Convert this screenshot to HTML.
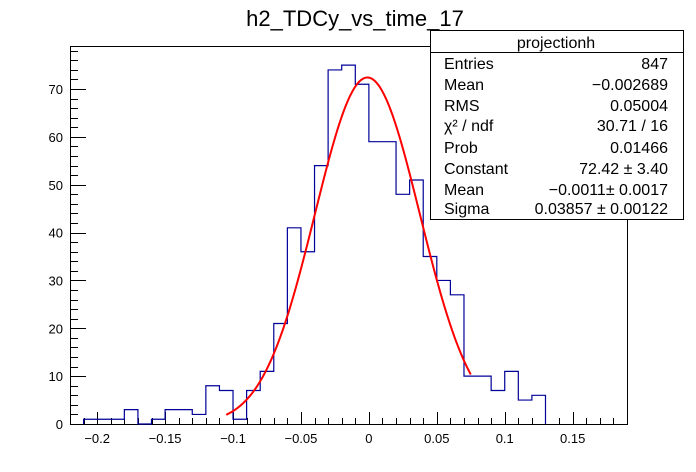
<!DOCTYPE html>
<html><head><meta charset="utf-8"><style>
body{margin:0;background:#fff;}
svg{display:block;font-family:"Liberation Sans",sans-serif;}
</style></head><body>
<svg id="chart" width="696" height="472" viewBox="0 0 696 472">
<rect x="0" y="0" width="696" height="472" fill="#fff"/>
<text x="355" y="26" font-size="22" text-anchor="middle">h2_TDCy_vs_time_17</text>
<g id="axes"></g>
<g id="hist"></g>
<g id="fit"></g>
<g>
<rect x="430.5" y="30.5" width="253" height="189" fill="#fff" stroke="#000"/>
<line x1="430" y1="52.5" x2="683" y2="52.5" stroke="#000"/>
<text x="556" y="48" font-size="16" text-anchor="middle">projectionh</text>
<g font-size="16">
<text x="444" y="69">Entries</text><text x="668" y="69" text-anchor="end">847</text>
<text x="444" y="90">Mean</text><text x="668" y="90" text-anchor="end">−0.002689</text>
<text x="444" y="111">RMS</text><text x="668" y="111" text-anchor="end">0.05004</text>
<text x="444" y="131">χ² / ndf</text><text x="668" y="131" text-anchor="end">30.71 / 16</text>
<text x="444" y="153">Prob</text><text x="668" y="153" text-anchor="end">0.01466</text>
<text x="444" y="174">Constant</text><text x="668" y="174" text-anchor="end">72.42 ± 3.40</text>
<text x="444" y="195">Mean</text><text x="668" y="195" text-anchor="end">−0.0011± 0.0017</text>
<text x="444" y="214">Sigma</text><text x="668" y="214" text-anchor="end">0.03857 ± 0.00122</text>
</g>
</g>
</svg>
<script>
const binLow = -0.21;
const binWidth = 0.01;
const counts = [1,1,1,3,0,1,3,3,2,8,7,1,7,11,21,41,36,54,74,75,71,59,59,48,51,35,30,27,10,10,7,11,5,6];
const fitConstant = 72.42, fitMean = -0.0011, fitSigma = 0.03857;
const fitRange = [-0.105, 0.075];
const xTickLabels = [-0.2,-0.15,-0.1,-0.05,0,0.05,0.1,0.15];
const yTickLabels = [0,10,20,30,40,50,60,70];

const X0=70, X1=627, Y0=424, Y1=46;
const xmin=-0.22, xmax=0.19, ymin=0, ymax=79;
const sx = v => X0 + (v-xmin)/(xmax-xmin)*(X1-X0);
const sy = v => Y0 - (v-ymin)/(ymax-ymin)*(Y0-Y1);
const NS='http://www.w3.org/2000/svg';
function mk(tag, attrs, parent){const e=document.createElementNS(NS,tag);for(const k in attrs)e.setAttribute(k,attrs[k]);parent.appendChild(e);return e;}
const axes=document.getElementById('axes');
const frame=mk('rect',{x:X0+.5,y:Y1+.5,width:X1-X0,height:Y0-Y1,fill:'none',stroke:'#000'},axes);


// x ticks
for(let i=-22;i<=19;i++){
  const v=i/100, x=Math.round(sx(v))+.5, major=(i%5===0);
  const t=mk('line',{x1:x,y1:Y0,x2:x,y2:Y0-(major?12:6),stroke:'#000'},axes);
  
  
}
xTickLabels.forEach(v=>{
  const t=mk('text',{x:sx(v),y:443,'font-size':13,'text-anchor':'middle'},axes);
  t.textContent=(v<0?'−':'')+String(Math.abs(v)).replace(/^0\./,'0.');
  
  
});
for(let v=0;v<=78;v+=2){
  const y=Math.round(sy(v))+.5, major=(v%10===0);
  const t=mk('line',{x1:X0,y1:y,x2:X0+(major?16:8),y2:y,stroke:'#000'},axes);
  
  
}
yTickLabels.forEach(v=>{
  const t=mk('text',{x:63,y:sy(v)+5,'font-size':13,'text-anchor':'end'},axes);
  t.textContent=String(v);
  
  
});
// histogram
let d='M'+sx(binLow)+' '+sy(0);
counts.forEach((c,i)=>{
  const a=sx(binLow+i*binWidth), b=sx(binLow+(i+1)*binWidth);
  d+=' L'+a+' '+sy(c)+' L'+b+' '+sy(c);
});
d+=' L'+sx(binLow+counts.length*binWidth)+' '+sy(0);
const h=mk('path',{d:d,fill:'none',stroke:'#000099','stroke-width':1.2},document.getElementById('hist'));


// fit
let fd='';
for(let k=0;k<=200;k++){
  const v=fitRange[0]+(fitRange[1]-fitRange[0])*k/200;
  const g=fitConstant*Math.exp(-0.5*Math.pow((v-fitMean)/fitSigma,2));
  fd+=(k?' L':'M')+sx(v).toFixed(2)+' '+sy(g).toFixed(2);
}
const f=mk('path',{d:fd,fill:'none',stroke:'#ff0000','stroke-width':2},document.getElementById('fit'));


</script>
</body></html>
